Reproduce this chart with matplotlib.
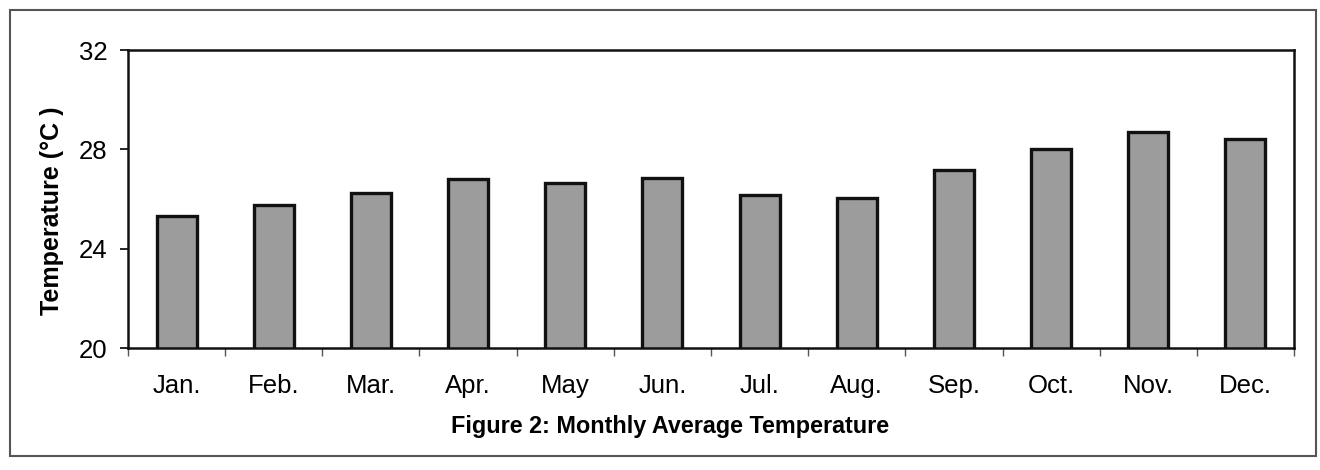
""" Monthly average temperature bar chart (Figure 2)
"""
import matplotlib
matplotlib.use("Agg")
import matplotlib.pyplot as plt
from matplotlib.patches import Rectangle

months = ["Jan.", "Feb.", "Mar.", "Apr.", "May", "Jun.",
          "Jul.", "Aug.", "Sep.", "Oct.", "Nov.", "Dec."]
temperatures = [25.3, 25.75, 26.25, 26.8, 26.65, 26.85,
                26.15, 26.05, 27.15, 28.0, 28.7, 28.4]
y_ticks = [20, 24, 28, 32]

plt.rcParams['font.family'] = ['Liberation Sans', 'DejaVu Sans']

W, H = 1320, 470
fig = plt.figure(figsize=(W / 100, H / 100), dpi=100)
ax = fig.add_axes([128 / W, 1 - 348 / H, (1294 - 128) / W, (348 - 50) / H])

x = list(range(len(months)))
ax.bar(x, temperatures, width=0.41, bottom=0,
       color='#9c9c9c', edgecolor='#111111', linewidth=2.4, zorder=2)

ax.set_xlim(-0.5, len(months) - 0.5)
ax.set_ylim(20, 32)
ax.set_yticks(y_ticks)
ax.set_yticklabels([str(t) for t in y_ticks], fontsize=18.5)
ax.set_xticks(x)
ax.set_xticklabels(months, fontsize=18.5)
ax.tick_params(axis='x', length=0, pad=19)
ax.set_xticks([i - 0.5 for i in range(len(months) + 1)], minor=True)
ax.tick_params(axis='x', which='minor', length=6, width=1, direction='out',
               color='#555555')
ax.tick_params(axis='y', length=6, width=1.2, direction='out', pad=9)

for side in ['left', 'bottom', 'top', 'right']:
    ax.spines[side].set_linewidth(1.8)
    ax.spines[side].set_color('#111111')

ax.set_ylabel("Temperature (°C )", fontsize=18, fontweight='bold')
ax.yaxis.set_label_coords(-0.055, 0.46)

fig.text(670 / W, 1 - 427 / H, "Figure 2: Monthly Average Temperature",
         ha='center', va='center', fontsize=16.8, fontweight='bold')

# outer frame round the whole figure
fig.patches.append(Rectangle((10 / W, 1 - 456 / H), (1316 - 10) / W,
                             (456 - 10) / H, transform=fig.transFigure,
                             fill=False, edgecolor='#555555', linewidth=1.5))

fig.savefig("out.png", dpi=100)
